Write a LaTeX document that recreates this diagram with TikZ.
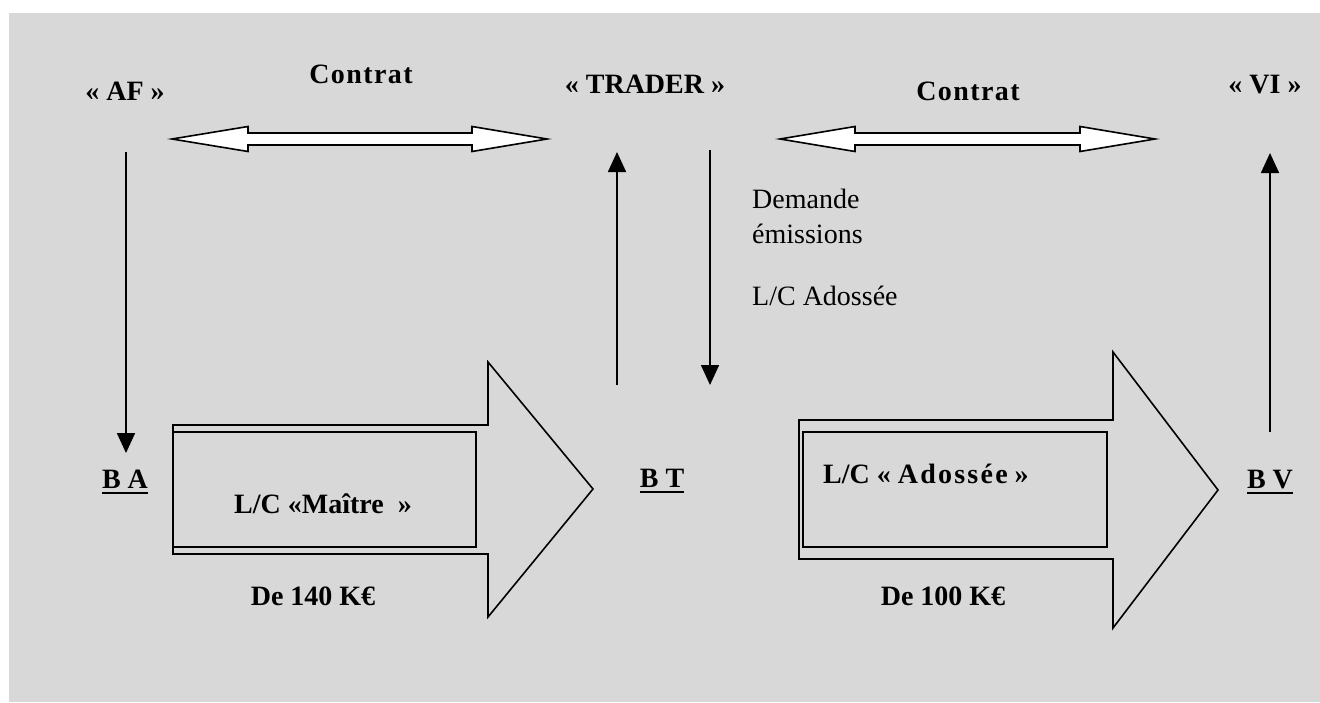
\documentclass[tikz,border=0pt]{standalone}
\usepackage{fontspec}
\setmainfont{Liberation Serif}
\usetikzlibrary{arrows.meta}
\definecolor{panel}{HTML}{D8D8D8}
% bank name with a heavy underline
\newcommand\bankname[1]{\setbox0\hbox{#1}\rlap{\raisebox{-6pt}{\rule{\wd0}{2.5pt}}}\box0}
% slightly spaced-out lettering
\newcommand\spaced[2]{{\addfontfeature{LetterSpace=#1}#2}}
\begin{document}
\begin{tikzpicture}[x=1pt,y=-1pt,
  lbl/.style={font=\fontsize{28}{32}\selectfont\bfseries, inner sep=0pt, anchor=base},
  txt/.style={font=\fontsize{28}{32}\selectfont, inner sep=0pt, anchor=base west},
  flow/.style={line width=1.6pt, -{Triangle[width=18pt,length=20pt]}},
  contract/.style={line width=1.6pt, draw=black, fill=white, line join=miter},
  blockarrow/.style={line width=1.6pt, draw=black, line join=miter},
  innerbox/.style={line width=2.2pt, draw=black},
  ]
\useasboundingbox (0,0) rectangle (1320,702);
\fill[panel] (9,13) rectangle (1320,702);

% parties and contracts
\node[lbl] (af)     at (125,100) {« AF »};
\node[lbl] (c1)     at (361,83)  {\spaced{5}{Contrat}};
\node[lbl] (trader) at (645,93)  {« TRADER »};
\node[lbl] (c2)     at (968,100) {\spaced{5}{Contrat}};
\node[lbl] (vi)     at (1265,93) {« VI »};

% banks
\node[lbl] (ba) at (125,488) {\bankname{B A}};
\node[lbl] (bt) at (662,487) {\bankname{B T}};
\node[lbl] (bv) at (1270,488) {\bankname{B V}};

% double-headed contract arrows
\draw[contract] (172,139) -- (248,126.5) -- (248,133) -- (472,133) -- (472,126.5)
  -- (547,139) -- (472,151.5) -- (472,145) -- (248,145) -- (248,151.5) -- cycle;
\draw[contract] (780,139) -- (855,126.5) -- (855,133) -- (1080,133) -- (1080,126.5)
  -- (1155,139) -- (1080,151.5) -- (1080,145) -- (855,145) -- (855,151.5) -- cycle;

% vertical flows
\coordinate (af0) at (126,152);
\coordinate (ba0) at (126,453);
\draw[flow] (af0) -- (ba0);

\coordinate (bt0) at (617,385);
\coordinate (tr0) at (617,152);
\draw[flow] (bt0) -- (tr0);

\coordinate (tr1) at (710,150);
\coordinate (bt1) at (710,385);
\draw[flow] (tr1) -- (bt1);

\coordinate (bv0) at (1270,432);
\coordinate (vi0) at (1270,153);
\draw[flow] (bv0) -- (vi0);

% request texts
\node[txt] (dem) at (752,208) {Demande};
\node[txt] (emi) at (752,243) {émissions};
\node[txt] (lca) at (752,305) {L/C Adossée};

% master L/C block arrow
\draw[blockarrow] (173,425) -- (488,425) -- (488,362) -- (593,489) -- (488,617)
  -- (488,554) -- (173,554) -- cycle;
\draw[innerbox] (173,432) rectangle (476,547);
\node[lbl] (lcm) at (323,513) {L/C «Maître~ »};
\node[lbl] (amt1) at (313,605) {De 140 K€};

% back-to-back L/C block arrow
\draw[blockarrow] (799,420) -- (1113,420) -- (1113,352) -- (1218,490) -- (1113,628)
  -- (1113,559) -- (799,559) -- cycle;
\draw[innerbox] (803,432) rectangle (1107,547);
\node[lbl, anchor=base west] (lcb) at (823,483) {L/C « \spaced{8}{Adossée} »};
\node[lbl] (amt2) at (943,605) {De 100 K€};
\end{tikzpicture}
\end{document}
